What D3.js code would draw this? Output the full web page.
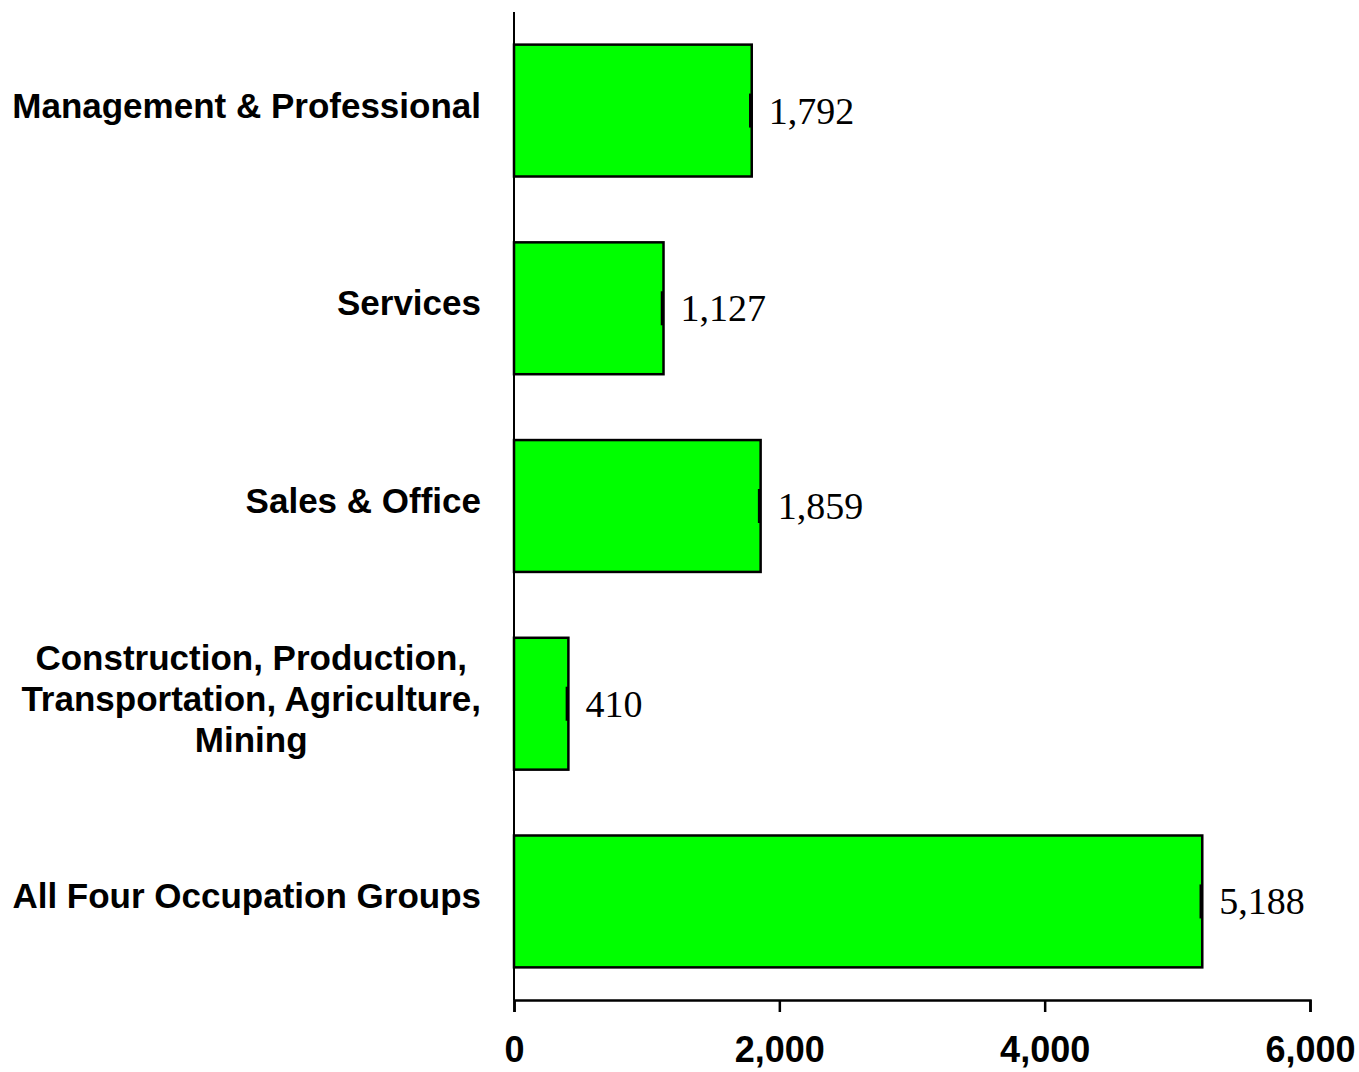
<!DOCTYPE html>
<html>
<head>
<meta charset="utf-8">
<script src="https://cdn.jsdelivr.net/npm/d3@7"></script>
<style>
  html, body { margin: 0; padding: 0; background: #fff; }
  svg { display: block; }
</style>
</head>
<body>
<svg id="chart" width="1359" height="1072"></svg>
<script>
const categories = [
  "Management & Professional",
  "Services",
  "Sales & Office",
  "Construction, Production,\nTransportation, Agriculture,\nMining",
  "All Four Occupation Groups"
];
const values = [1792, 1127, 1859, 410, 5188];
const xTicks = [0, 2000, 4000, 6000];

const svg = d3.select("#chart");
const x = d3.scaleLinear().domain([0, 6000]).range([514, 1310]);
const y = d3.scaleBand().domain(categories).range([12, 1000])
  .paddingInner(0.333).paddingOuter(0.165);

// y axis line
svg.append("line")
  .attr("x1", x(0)).attr("x2", x(0))
  .attr("y1", y.range()[0]).attr("y2", y.range()[1])
  .attr("stroke", "#000").attr("stroke-width", 2);

// x axis
const xAxis = d3.axisBottom(x).tickValues(xTicks).tickSize(12).tickPadding(24)
  .tickFormat(d3.format(","));
const gx = svg.append("g").attr("transform", `translate(0,${y.range()[1]})`).call(xAxis);
gx.select(".domain").attr("stroke", "#000").attr("stroke-width", 2.5);
gx.selectAll(".tick line").attr("stroke", "#000").attr("stroke-width", 2.5);
gx.selectAll(".tick text")
  .attr("font-family", "Liberation Sans, Arial, sans-serif")
  .attr("font-weight", "bold").attr("font-size", 36).attr("fill", "#000");

// bars
svg.selectAll("rect.bar").data(values).enter().append("rect")
  .attr("class", "bar")
  .attr("x", x(0))
  .attr("y", (d, i) => y(categories[i]))
  .attr("width", d => x(d) - x(0))
  .attr("height", y.bandwidth())
  .attr("fill", "#00FF00")
  .attr("stroke", "#000").attr("stroke-width", 2.5);

// small marks at bar ends
svg.selectAll("line.mark").data(values).enter().append("line")
  .attr("x1", d => x(d) - 1.5).attr("x2", d => x(d) - 1.5)
  .attr("y1", (d, i) => y(categories[i]) + y.bandwidth() / 2 - 17)
  .attr("y2", (d, i) => y(categories[i]) + y.bandwidth() / 2 + 17)
  .attr("stroke", "#000").attr("stroke-width", 2.5);

// value labels
svg.selectAll("text.val").data(values).enter().append("text")
  .attr("class", "val")
  .attr("x", d => x(d) + 17)
  .attr("y", (d, i) => y(categories[i]) + y.bandwidth() / 2 + 13)
  .attr("font-family", "Liberation Serif, Times New Roman, serif")
  .attr("font-size", 38).attr("fill", "#000")
  .text(d => d3.format(",")(d));

// category labels
const labelRight = 481;
categories.forEach((c, i) => {
  const lines = c.split("\n");
  const cy = y(c) + y.bandwidth() / 2;
  const lh = 41;
  const g = svg.append("g");
  const texts = lines.map((ln, k) => g.append("text")
    .attr("y", cy + 7 + (k - (lines.length - 1) / 2) * lh)
    .attr("font-family", "Liberation Sans, Arial, sans-serif")
    .attr("font-weight", "bold").attr("font-size", 35).attr("fill", "#000")
    .text(ln));
  if (lines.length === 1) {
    texts[0].attr("x", labelRight).attr("text-anchor", "end");
  } else {
    const maxW = d3.max(texts, t => t.node().getComputedTextLength());
    texts.forEach(t => t.attr("x", labelRight - maxW / 2).attr("text-anchor", "middle"));
  }
});
</script>
</body>
</html>
